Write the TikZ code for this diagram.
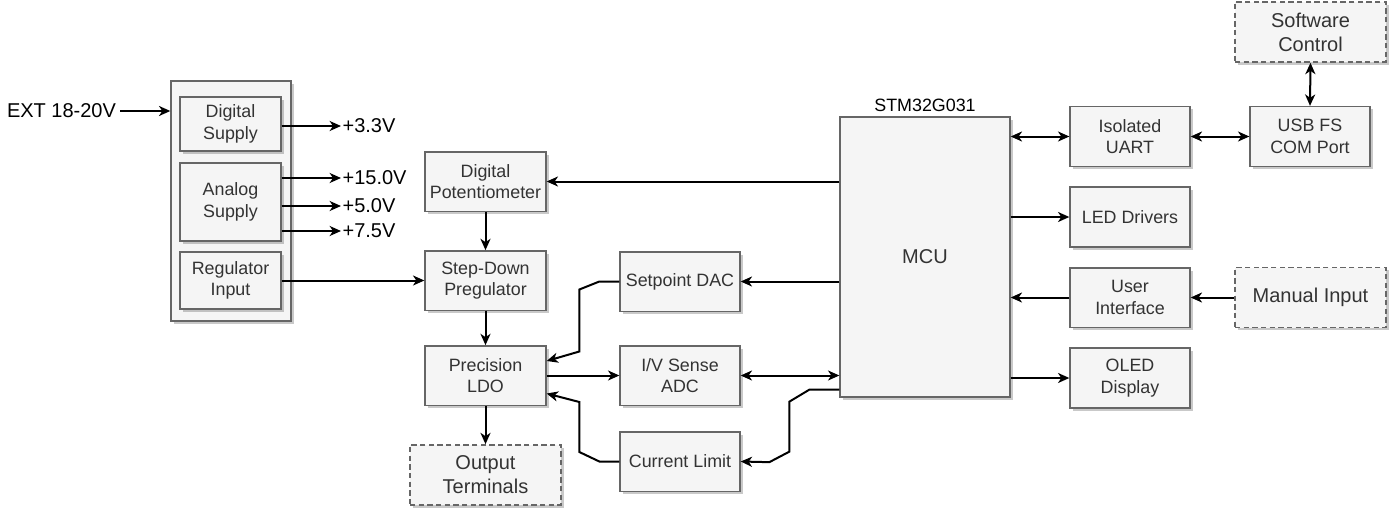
\documentclass[tikz,border=0pt]{standalone}
\usepackage{fontspec}
\setmainfont{Liberation Sans}
\usetikzlibrary{%
  arrows.meta,%
  shadows,%
  calc,%
  positioning%
}
\definecolor{boxfill}{HTML}{F5F5F5}
\definecolor{boxline}{HTML}{666666}
\definecolor{boxtext}{HTML}{333333}

\begin{document}
\begin{tikzpicture}[
  x=0.75pt, y=-0.75pt,
  font=\fontsize{13.4}{16.2}\selectfont, >={Stealth[length=8.5pt,width=7.5pt,inset=2.5pt]},
  block/.style={rectangle, draw=boxline, fill=boxfill, text=boxtext, line width=1pt,
    inner sep=0pt, align=center, minimum width=90pt, minimum height=44.5pt,
    drop shadow={shadow xshift=2pt, shadow yshift=-2pt, opacity=0.3, fill=black!70}},
  dashblock/.style={block, line width=1.2pt, dash pattern=on 4pt off 2.5pt, minimum width=113.25pt,
    minimum height=45pt, font=\fontsize{15}{18}\selectfont},
  volt/.style={anchor=west, inner sep=1pt, font=\fontsize{15}{18}\selectfont},
  arr/.style={->, line width=1.5pt},
  biarr/.style={<->, line width=1.5pt}
]
\useasboundingbox (0,0) rectangle (1400,521);

% supply section
\node[block, minimum width=90pt, minimum height=180pt] (supply) at (231,201) {};
  \node[block, minimum width=75.75pt, minimum height=40.5pt] (digsup) at (230.5,124) {Digital\\Supply};
  \node[block, minimum width=75.75pt, minimum height=58.5pt] (anasup) at (230.5,202) {Analog\\Supply};
  \node[block, minimum width=75.75pt, minimum height=42.75pt] (reginp) at (230.5,280.5) {Regulator\\Input};
\node[inner sep=3pt, font=\fontsize{15}{18}\selectfont] (ext) at (61.5,111) {EXT 18-20V};
\node[volt] (v33) at (341,126) {+3.3V};
\node[volt] (v150) at (341,178) {+15.0V};
\node[volt] (v50) at (341,206) {+5.0V};
\node[volt] (v75) at (341,231) {+7.5V};

% power path
\node[block, minimum width=90.75pt] (digpot) at (485.5,181.5) {Digital\\Potentiometer};
\node[block, minimum width=90.75pt] (stepdn) at (485.5,280.5) {Step-Down\\Pregulator};
\node[block, minimum width=90.75pt] (ldo) at (485.5,375.5) {Precision\\LDO};
\node[dashblock] (outterm) at (485.5,475) {Output\\Terminals};

\node[block] (dac) at (680,281.5) {Setpoint DAC};
\node[block] (adc) at (680,375.5) {I/V Sense\\ADC};
\node[block] (curlim) at (680,461.5) {Current Limit};

% controller
\node[block, minimum width=127.5pt, minimum height=210pt, font=\fontsize{15}{18}\selectfont] (mcu) at (925,257) {MCU};
\node[above=3pt of mcu, inner sep=0pt] (mcuname) {STM32G031};

\node[block, minimum height=45pt] (uart) at (1130,136.5) {Isolated\\UART};
\node[block, minimum height=45pt] (usb) at (1310,136.5) {USB FS\\COM Port};
\node[dashblock] (swctl) at (1310.5,32) {Software\\Control};
\node[block, minimum height=45pt] (leds) at (1130,217) {LED Drivers};
\node[block] (ui) at (1130,297.5) {User\\Interface};
\node[dashblock] (manual) at (1310.5,297.5) {Manual Input};
\node[block, minimum height=45pt] (oled) at (1130,378) {OLED\\Display};

\draw[arr] (ext.east) -- (supply.west |- ext.east);
\draw[arr] (digsup.east |- v33.west) -- (v33.west);
\draw[arr] (anasup.east |- v150.west) -- (v150.west);
\draw[arr] (anasup.east |- v50.west) -- (v50.west);
\draw[arr] (anasup.east |- v75.west) -- (v75.west);
\draw[arr] (reginp.east) -- (stepdn.west);

\draw[arr] (digpot.south) -- (stepdn.north);
\draw[arr] (stepdn.south) -- (ldo.north);
\draw[arr] (ldo.south) -- (outterm.north);
\draw[arr] (ldo.east) -- (adc.west);

\draw[arr] (mcu.west |- digpot.east) -- (digpot.east);
\draw[arr] (mcu.west |- dac.east) -- (dac.east);
\draw[biarr] (adc.east) -- (mcu.west |- adc.east);
\draw[arr] (dac.west) -- ++(-20,0) -- ++(-20,8) -- ++(0,62) -- ($(ldo.east)+(0,-14.5)$);
\draw[arr] (curlim.west) -- ++(-20,0) -- ++(-20,-9.5) -- ++(0,-50) -- ($(ldo.east)+(0,18)$);
\draw[arr] ($(mcu.south west)+(0,-8)$) -- ++(-30,0) -- ++(-20,12) -- ++(0,50) -- ++(-20,10.5) -- (curlim.east);

\draw[biarr] (mcu.east |- uart.west) -- (uart.west);
\draw[biarr] (uart.east) -- (usb.west);
\draw[biarr] (swctl.south) -- (usb.north);
\draw[arr] (mcu.east |- leds.west) -- (leds.west);
\draw[arr] (ui.west) -- (mcu.east |- ui.west);
\draw[arr] (manual.west) -- (ui.east);
\draw[arr] (mcu.east |- oled.west) -- (oled.west);
\end{tikzpicture}
\end{document}
